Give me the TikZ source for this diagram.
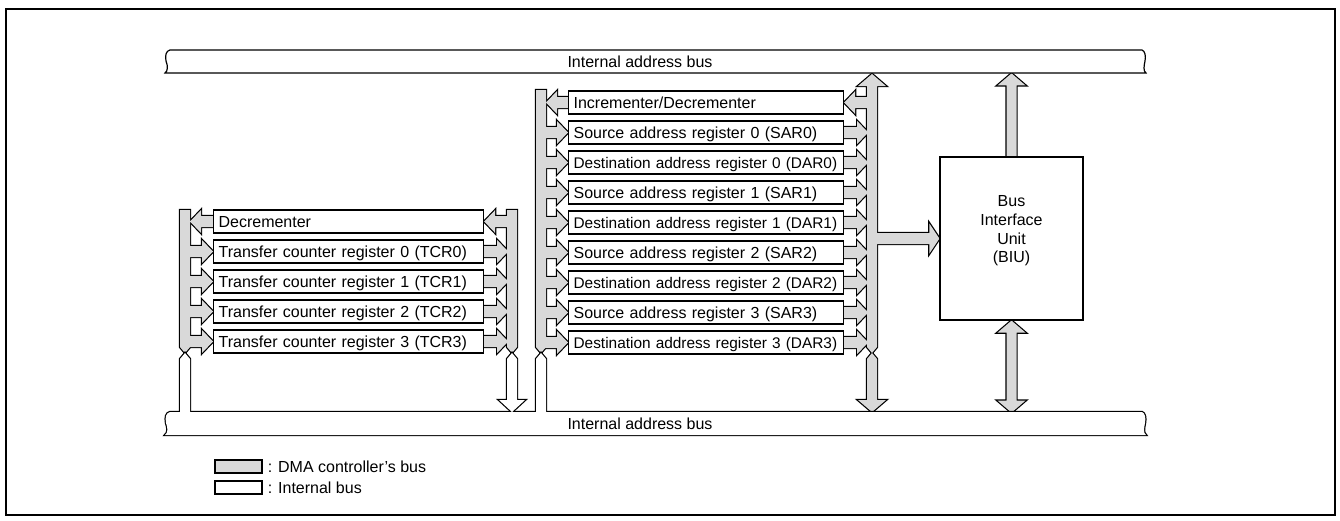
\documentclass[tikz,border=0pt]{standalone}
\usepackage{fontspec}
\setmainfont{Liberation Sans}
\usepackage{tikz}
\usetikzlibrary{positioning}
\definecolor{BusGray}{HTML}{D9D9D9}
\pgfdeclarelayer{bg}
\pgfsetlayers{bg,main}
\newcommand\regfont{\fontsize{16}{19}\selectfont}
\newcommand\darfont{\fontsize{15.4}{19}\selectfont}
% fat arrows: style, anchor, shaft length
\newcommand\rtip[3]{\path[#1] (#2) -- ++(-11,-11.5) -- ++(0,6) -- ++(-#3,0) -- ++(0,11) -- ++(#3,0) -- ++(0,6) -- cycle;}
\newcommand\ltip[3]{\path[#1] (#2) -- ++(11,-11.5) -- ++(0,6) -- ++(#3,0) -- ++(0,11) -- ++(-#3,0) -- ++(0,6) -- cycle;}
\newcommand\rtail[3]{\path[#1] (#2) ++(0,-5.5) -- ++(#3,0) -- ++(0,-6) -- ++(11,11.5) -- ++(-11,11.5) -- ++(0,-6) -- ++(-#3,0) -- cycle;}
\newcommand\ltail[3]{\path[#1] (#2) ++(0,-5.5) -- ++(-#3,0) -- ++(0,-6) -- ++(-11,11.5) -- ++(11,11.5) -- ++(0,-6) -- ++(#3,0) -- cycle;}
% bus with wavy ends: x left, x right, y top, style
\newcommand\buswave[4]{\path[#4] (#1+5,#3) -- (#2-3,#3) .. controls (#2,#3+1) and (#2+1,#3+6) .. (#2,#3+11) .. controls (#2-1,#3+16) and (#2-2,#3+21) .. (#2+1,#3+23) -- (#1,#3+23) .. controls (#1+3,#3+21) and (#1+3,#3+16) .. (#1+1,#3+11) .. controls (#1,#3+5) and (#1+1,#3+1) .. (#1+5,#3) -- cycle;}
% DMA controller's bus (gray)
\newcommand\dmaparts[1]{%
  \path[#1] (180,210) -- (190,210) -- (190,347) -- (185,353) -- (180,347) -- cycle;
  \path[#1] (507,210) -- (517,210) -- (517,347) -- (512,353) -- (507,347) -- cycle;
  \ltail{#1}{dec.west}{12}
  \ltip{#1}{dec.east}{15}
  \foreach \i in {0,...,3}{\rtip{#1}{tcr\i.west}{14}\rtail{#1}{tcr\i.east}{13}}
  \path[#1] (536,90) -- (546,90) -- (546,347) -- (541,353) -- (536,347) -- cycle;
  \path[#1] (872,74) -- (886,86) -- (877,86) -- (877,347) -- (872,353) -- (867,347) -- (867,86) -- (858,86) -- cycle;
  \path[#1] (872,353) -- (877,359) -- (877,400) -- (886,400) -- (872,412) -- (858,400) -- (867,400) -- (867,359) -- cycle;
  \ltail{#1}{incdec.west}{11}
  \ltip{#1}{incdec.east}{15}
  \foreach \rname in {sar0,dar0,sar1,dar1,sar2,dar2,sar3,dar3}{\rtip{#1}{\rname.west}{13}\rtail{#1}{\rname.east}{13}}
  \path[#1] (biu.west) -- ++(-10,-15) -- ++(0,9.5) -- ++(-55,0) -- ++(0,11) -- ++(55,0) -- ++(0,9.5) -- cycle;
  \path[#1] (biu.north) ++(-5,3) -- ++(0,-74) -- ++(-9,0) -- ++(14,-12) -- ++(14,12) -- ++(-9,0) -- ++(0,74) -- cycle;
  \path[#1] (biu.south) -- ++(14,12) -- ++(-9,0) -- ++(0,68) -- ++(9,0) -- ++(-14,12) -- ++(-14,-12) -- ++(9,0) -- ++(0,-68) -- ++(-9,0) -- cycle;
}
% internal bus (white)
\newcommand\intparts[1]{%
  \buswave{165}{1145}{412}{#1}
  \path[#1] (185,353) -- (190,359) -- (190,415) -- (180,415) -- (180,359) -- cycle;
  \path[#1] (541,353) -- (546,359) -- (546,415) -- (536,415) -- (536,359) -- cycle;
  \path[#1] (512,353) -- (517,359) -- (517,400) -- (525,400) -- (512,412) -- (499,400) -- (507,400) -- (507,359) -- cycle;
}

\begin{document}
\begin{tikzpicture}[x=1pt,y=-1pt,
  reg/.style={draw,fill=white,line width=1.2pt,anchor=west,align=left,inner xsep=5pt,inner ysep=0pt,
    minimum height=23pt,text height=15pt,text depth=3.6pt,font=\regfont},
  lreg/.style={reg,text width=260pt},
  mreg/.style={reg,text width=265pt},
  key/.style={draw,line width=1.2pt,minimum width=47pt,minimum height=13pt,inner sep=0pt}]
\useasboundingbox (0,0) rectangle (1340,520);
\draw[line width=1.6pt] (6,9) rectangle (1335,515);

\node[lreg] (dec) at (213,221.5) {Decrementer};
\foreach \i in {0,...,3}
  \node[lreg] (tcr\i) at (213,251.5+30*\i) {Transfer counter register \i\ (TCR\i)};

\node[mreg] (incdec) at (568,102.5) {Incrementer/Decrementer};
\foreach \i in {0,...,3}{
  \node[mreg] (sar\i) at (568,132.5+60*\i) {Source address register \i\ (SAR\i)};
  \node[mreg,font=\darfont] (dar\i) at (568,162.5+60*\i) {Destination address register \i\ (DAR\i)};
}

\node[draw,fill=white,line width=1.2pt,minimum width=143pt,minimum height=163pt] (biu) at (1011.5,238.5) {};
\node[align=center,font=\fontsize{16}{18.7}\selectfont] (biutxt) at (1011.5,231) {Bus\\Interface\\Unit\\(BIU)};

\begin{pgfonlayer}{bg}
\dmaparts{draw,line width=2.4pt}
\dmaparts{fill=BusGray}
\intparts{draw,line width=2.4pt}
\intparts{fill=white}
\end{pgfonlayer}

\buswave{165}{1145}{50}{draw,fill=white,line width=1.2pt}
\node[font=\regfont] (topbus) at (640,61.5) {Internal address bus};
\node[font=\regfont] (botbus) at (640,423.5) {Internal address bus};

\node[key,fill=BusGray] (keydma) at (238.5,466.5) {};
\node[font=\regfont,inner sep=0pt,right=5pt of keydma] (keydmatxt) {: DMA controller’s bus};
\node[key,fill=white] (keyint) at (238.5,487.5) {};
\node[font=\regfont,inner sep=0pt,right=5pt of keyint] (keyinttxt) {: Internal bus};
\end{tikzpicture}
\end{document}
